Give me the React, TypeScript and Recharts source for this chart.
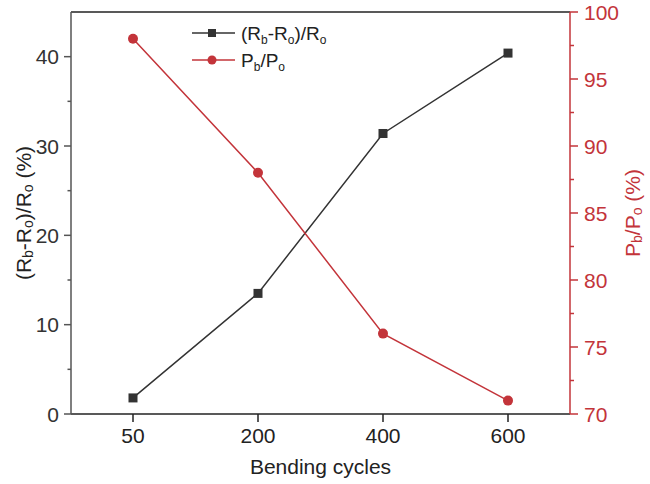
import { LineChart, Line, XAxis, YAxis, Legend, ReferenceLine } from 'recharts';

const cycles = ['50', '200', '400', '600'];
const resistanceChange = [1.8, 13.5, 31.4, 40.4];
const powerRatio = [98, 88, 76, 71];
const leftTicks = [0, 5, 10, 15, 20, 25, 30, 35, 40];
const rightTicks = [70, 72.5, 75, 77.5, 80, 82.5, 85, 87.5, 90, 92.5, 95, 97.5, 100];

const data = cycles.map((c, i) => ({ cycle: c, r: resistanceChange[i], p: powerRatio[i] }));

const DARK = '#333333';
const RED = '#c3343a';
const FONT = '"Liberation Sans", Arial, sans-serif';

const LeftTick = (props: any) => {
  const { x, y, payload } = props;
  const major = payload.value % 10 === 0;
  const ax = x + 12;
  return (
    <g>
      <line x1={ax} x2={ax - (major ? 7 : 3.5)} y1={y} y2={y} stroke="#555" strokeWidth={1.5} />
      {major && (
        <text x={x} y={y} dy={7.5} textAnchor="end" fontSize={21} fill="#333" fontFamily={FONT}>
          {payload.value}
        </text>
      )}
    </g>
  );
};

const RightTick = (props: any) => {
  const { x, y, payload } = props;
  const major = payload.value % 5 === 0;
  const ax = x - 14;
  return (
    <g>
      <line x1={ax} x2={ax + (major ? 8 : 4)} y1={y} y2={y} stroke={RED} strokeWidth={1.5} />
      {major && (
        <text x={x} y={y} dy={7.5} textAnchor="start" fontSize={21} fill={RED} fontFamily={FONT}>
          {payload.value}
        </text>
      )}
    </g>
  );
};

const renderLegend = () => (
  <svg width={180} height={60} style={{ display: 'block' }}>
    <line x1={2} x2={45} y1={13} y2={13} stroke={DARK} strokeWidth={1.5} />
    <rect x={18} y={9} width={8} height={8} fill={DARK} />
    <text x={51} y={20} fontSize={19} fill="#222" fontFamily={FONT}>
      (R<tspan dy={4} fontSize={12}>b</tspan>
      <tspan dy={-4}>-R</tspan>
      <tspan dy={4} fontSize={12}>o</tspan>
      <tspan dy={-4}>)/R</tspan>
      <tspan dy={4} fontSize={12}>o</tspan>
    </text>
    <line x1={2} x2={45} y1={40} y2={40} stroke={RED} strokeWidth={1.5} />
    <circle cx={22} cy={40} r={4.5} fill={RED} />
    <text x={51} y={47} fontSize={19} fill="#222" fontFamily={FONT}>
      P<tspan dy={4} fontSize={12}>b</tspan>
      <tspan dy={-4}>/P</tspan>
      <tspan dy={4} fontSize={12}>o</tspan>
    </text>
  </svg>
);

const LeftLabel = (props: any) => {
  const vb = props.viewBox;
  const cx = 23;
  const cy = vb.y + vb.height / 2;
  return (
    <text x={cx} y={cy} transform={`rotate(-90, ${cx}, ${cy})`} textAnchor="middle" dominantBaseline="central" fontSize={21} fill="#222" fontFamily={FONT}>
      (R<tspan dy={5} fontSize={14}>b</tspan>
      <tspan dy={-5}>-R</tspan>
      <tspan dy={5} fontSize={14}>o</tspan>
      <tspan dy={-5}>)/R</tspan>
      <tspan dy={5} fontSize={14}>o</tspan>
      <tspan dy={-5}> (%)</tspan>
    </text>
  );
};

const RightLabel = (props: any) => {
  const vb = props.viewBox;
  const cx = 632;
  const cy = vb.y + vb.height / 2;
  return (
    <text x={cx} y={cy} transform={`rotate(-90, ${cx}, ${cy})`} textAnchor="middle" dominantBaseline="central" fontSize={21} fill={RED} fontFamily={FONT}>
      P<tspan dy={5} fontSize={14}>b</tspan>
      <tspan dy={-5}>/P</tspan>
      <tspan dy={5} fontSize={14}>o</tspan>
      <tspan dy={-5}> (%)</tspan>
    </text>
  );
};

const Square = (props: any) => {
  const { cx, cy } = props;
  return <rect x={cx - 4.5} y={cy - 4.5} width={9} height={9} fill={DARK} />;
};

export default function App() {
  return (
    <div style={{ position: 'absolute', left: 0, top: 0, background: '#fff' }}>
      <LineChart width={650} height={484} data={data} margin={{ top: 12, right: 0, bottom: 0, left: 0 }}>
        <XAxis
          dataKey="cycle"
          height={70}
          padding={{ left: 62, right: 62 }}
          tickSize={8}
          tickMargin={6}
          stroke="#222"
          strokeWidth={1.5}
          tick={{ fontSize: 21, fill: '#222', fontFamily: FONT }}
          label={{ value: 'Bending cycles', position: 'insideBottom', offset: 10, fontSize: 21, fill: '#222', fontFamily: FONT }}
        />
        <YAxis
          yAxisId="left"
          width={71}
          domain={[0, 45]}
          ticks={leftTicks}
          interval={0}
          tickSize={7}
          tickMargin={5}
          tickLine={false}
          axisLine={{ stroke: '#555', strokeWidth: 1.5 }}
          tick={<LeftTick />}
          label={<LeftLabel />}
        />
        <YAxis
          yAxisId="right"
          orientation="right"
          width={80}
          domain={[70, 100]}
          ticks={rightTicks}
          interval={0}
          tickSize={8}
          tickMargin={6}
          tickLine={false}
          axisLine={{ stroke: RED, strokeWidth: 1.5 }}
          tick={<RightTick />}
          label={<RightLabel />}
        />
        <ReferenceLine yAxisId="left" y={45} stroke="#222" strokeWidth={1.5} />
        <Legend
          layout="horizontal"
          verticalAlign="middle"
          align="center"
          wrapperStyle={{ position: 'absolute', top: 20, left: 190, width: 180 }}
          content={renderLegend}
        />
        <Line
          yAxisId="left"
          dataKey="r"
          name="(Rb-Ro)/Ro"
          stroke={DARK}
          strokeWidth={1.5}
          dot={<Square />}
          activeDot={false}
          isAnimationActive={false}
        />
        <Line
          yAxisId="right"
          dataKey="p"
          name="Pb/Po"
          stroke={RED}
          strokeWidth={1.5}
          dot={{ r: 5, fill: RED, stroke: RED, strokeWidth: 0 }}
          activeDot={false}
          isAnimationActive={false}
        />
      </LineChart>
    </div>
  );
}
